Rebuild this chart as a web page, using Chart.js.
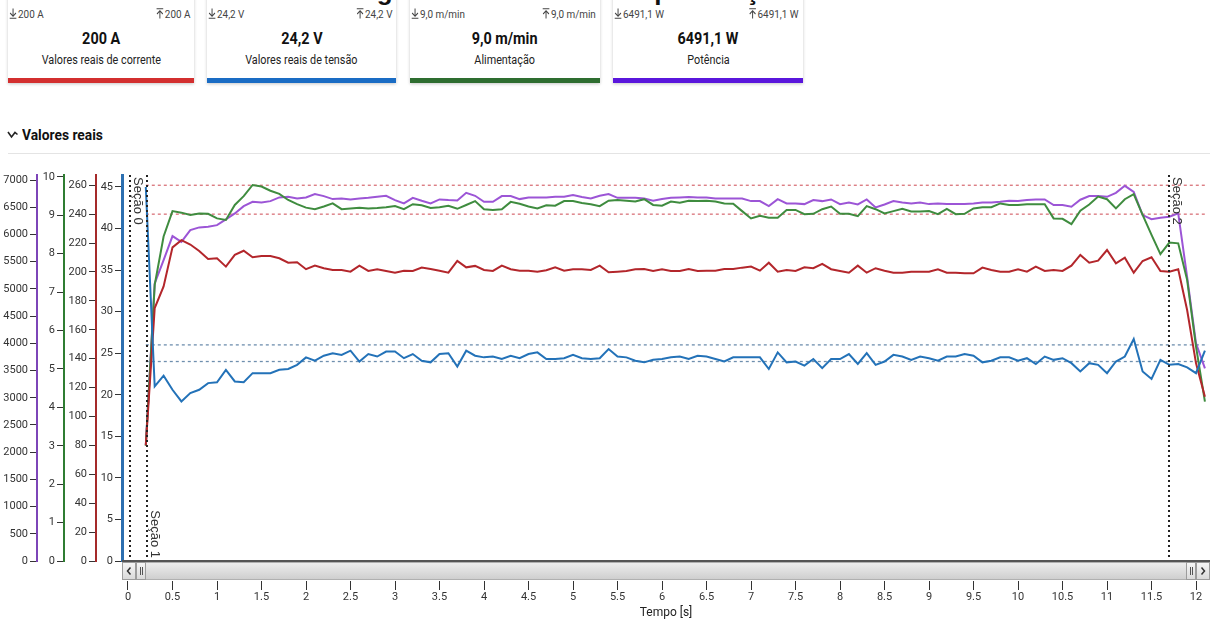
<!DOCTYPE html>
<html><head><meta charset="utf-8">
<script src="https://cdn.jsdelivr.net/npm/chart.js@4.4.1/dist/chart.umd.min.js"></script>
<style>
html,body{margin:0;padding:0;background:#fff;width:1212px;height:622px;overflow:hidden;font-family:"Liberation Sans Narrow","Roboto",sans-serif;color:#222}
#title{position:absolute;top:-24px;left:0;width:1310px;text-align:center;font:bold 26px "Liberation Sans","Roboto",sans-serif;color:#111;white-space:nowrap;z-index:5}
.card{position:absolute;top:-6px;height:89px;background:#fff;box-shadow:0 1px 3px rgba(0,0,0,0.22)}
.sq{display:inline-block;transform:scaleX(0.9);white-space:nowrap}
.card .mn{position:absolute;left:1px;top:14px;font-size:11px;color:#444;white-space:nowrap}
.card .mn .sq{transform-origin:left center}
.card .mx{position:absolute;right:4px;top:14px;font-size:11px;color:#444;white-space:nowrap}
.card .mx .sq{transform-origin:right center}
.card svg{vertical-align:-1px;margin-right:1px}
.card .val{position:absolute;left:0;right:0;top:35px;text-align:center;font-weight:bold;font-size:16px;color:#111}
.card .lab{position:absolute;left:0;right:0;top:59px;text-align:center;font-size:12px;color:#222}
.card .bar{position:absolute;left:0;right:0;bottom:0;height:5px}
#sect{position:absolute;left:22px;top:126px;font-weight:bold;font-size:15px;color:#111}
#sect .sq{transform-origin:left center;transform:scaleX(0.92)}
#icon{position:absolute;left:7px;top:130px}
#rule{position:absolute;left:8px;right:2px;top:153px;height:1px;background:#e4e4e4}
#wrap{position:absolute;left:0;top:160px;width:1212px;height:462px}
</style></head>
<body>
<div id="title">Diagrama dos resultados para seções de soldadura</div>
<div id="cards"></div>
<svg id="icon" width="12" height="10"><polyline points="1,2 4.5,7 8,2.5 10.5,4.5" fill="none" stroke="#222" stroke-width="1.6"/></svg>
<div id="sect"><span class="sq">Valores reais</span></div>
<div id="rule"></div>
<div id="wrap"><canvas id="c"></canvas></div>
<script>
// ---------- data ----------
const cardNames  = ['Valores reais de corrente','Valores reais de tensão','Alimentação','Potência'];
const cardValues = ['200 A','24,2 V','9,0 m/min','6491,1 W'];
const cardMins   = ['200 A','24,2 V','9,0 m/min','6491,1 W'];
const cardMaxs   = ['200 A','24,2 V','9,0 m/min','6491,1 W'];

const times = [
 0.2,0.3,0.4,0.5,0.6,0.7,0.8,0.9,1.0,1.1,
 1.2,1.3,1.4,1.5,1.6,1.7,1.8,1.9,2.0,2.1,
 2.2,2.3,2.4,2.5,2.6,2.7,2.8,2.9,3.0,3.1,
 3.2,3.3,3.4,3.5,3.6,3.7,3.8,3.9,4.0,4.1,
 4.2,4.3,4.4,4.5,4.6,4.7,4.8,4.9,5.0,5.1,
 5.2,5.3,5.4,5.5,5.6,5.7,5.8,5.9,6.0,6.1,
 6.2,6.3,6.4,6.5,6.6,6.7,6.8,6.9,7.0,7.1,
 7.2,7.3,7.4,7.5,7.6,7.7,7.8,7.9,8.0,8.1,
 8.2,8.3,8.4,8.5,8.6,8.7,8.8,8.9,9.0,9.1,
 9.2,9.3,9.4,9.5,9.6,9.7,9.8,9.9,10.0,10.1,
 10.2,10.3,10.4,10.5,10.6,10.7,10.8,10.9,11.0,11.1,
 11.2,11.3,11.4,11.5,11.6,11.7,11.8,11.9,12.0,12.1];

const voltage = [
 45.0,21.0,22.3,20.6,19.2,20.2,20.6,21.4,21.5,23.0,21.6,21.5,22.6,22.6,22.6,23.0,23.1,23.6,24.5,24.1,24.7,25.0,24.8,25.3,24.0,
 24.9,24.6,25.2,25.2,24.4,24.9,24.1,23.9,24.9,25.0,23.4,25.3,24.7,24.5,24.6,24.3,24.7,24.4,24.9,25.1,24.3,24.3,24.4,24.8,24.4,24.3,24.4,
 25.5,24.6,24.5,24.1,23.9,24.2,24.3,24.5,24.6,24.3,24.7,24.6,24.3,24.0,24.5,24.5,24.5,24.5,23.1,25.1,23.9,24.0,23.5,24.3,23.2,24.3,24.3,24.9,
 23.7,25.0,23.6,24.0,24.8,24.6,24.2,24.6,24.4,24.1,24.6,24.6,24.9,24.7,23.9,24.1,24.5,24.5,24.1,24.4,23.7,24.6,24.2,24.4,23.8,
 22.8,23.8,23.6,22.6,24.0,24.6,26.7,22.8,21.9,24.2,23.6,23.7,23.3,22.6,25.3];

const current = [
 80,175,190,217,222,219,214.5,209,209.5,203.7,211.8,214.7,210.2,211,211,209.5,206.4,206.7,201.9,204.4,202.6,201.4,201.4,200.2,204.4,
 200.7,201.9,200.7,199.5,200.9,200.7,203.0,202.1,200.9,199.5,207.6,203.2,204.2,201.4,200.7,204.4,201.9,200.9,200.9,200.2,201.2,203.2,200.9,201.9,201.9,201.4,204.4,
 199.8,200.2,200.7,201.9,202.1,200.7,201.9,200.7,200.7,202.1,200.7,200.9,200.9,202.1,202.1,203.0,203.7,200.9,206.4,200.2,201.4,200.7,203.2,202.6,205.6,201.9,200.7,199.5,
 204.4,199.5,202.6,200.9,199.5,199.5,200.2,200.2,200.2,201.9,199.5,199.5,199.1,199.1,203.0,201.4,200.2,200.2,201.9,200.2,203.7,200.7,201.4,200.7,204.4,
 211.8,206.4,207.8,215.2,206.0,209.9,199.5,207.6,210.2,200.7,200.2,201.9,173.7,136.8,113.7];

const feed = [
 3.0,7.19,8.45,9.11,9.07,9.01,9.05,9.04,8.92,8.88,9.27,9.5,9.79,9.75,9.64,9.56,9.40,9.29,9.2,9.16,9.23,9.31,9.16,9.18,9.2,
 9.18,9.19,9.21,9.24,9.16,9.29,9.26,9.19,9.21,9.25,9.17,9.27,9.37,9.16,9.14,9.16,9.35,9.30,9.23,9.18,9.26,9.25,9.37,9.37,9.32,9.29,9.24,
 9.38,9.40,9.38,9.36,9.42,9.27,9.25,9.36,9.33,9.38,9.37,9.38,9.36,9.31,9.30,9.11,8.92,8.99,8.94,8.94,9.14,9.14,9.03,9.04,9.16,9.23,9.04,9.04,
 8.98,9.24,9.16,9.05,9.11,9.17,9.10,9.10,9.11,9.03,9.17,9.03,9.04,9.18,9.21,9.21,9.31,9.27,9.27,9.29,9.29,9.29,8.92,8.91,8.77,
 9.12,9.28,9.49,9.42,9.18,9.42,9.55,9.01,8.49,7.99,8.29,8.27,7.32,5.58,4.15];

const power = [
 2130,5102,5530,5971,5866,6081,6131,6142,6173,6277,6388,6522,6601,6590,6614,6682,6693,6664,6682,6743,6706,6651,6664,6645,6663,
 6675,6694,6712,6633,6572,6675,6620,6572,6645,6633,6627,6767,6712,6602,6602,6706,6706,6651,6682,6682,6682,6694,6694,6724,6688,6663,6712,
 6743,6675,6675,6675,6663,6620,6651,6675,6682,6688,6682,6682,6663,6663,6663,6663,6614,6614,6522,6651,6572,6572,6559,6633,6614,6645,6559,6590,
 6553,6645,6497,6553,6614,6590,6572,6590,6559,6572,6559,6559,6559,6572,6590,6590,6602,6620,6614,6633,6645,6645,6541,6541,6510,
 6640,6706,6706,6693,6767,6895,6785,6357,6283,6307,6326,6388,5223,4000,3540];

const voltageLimits = [26, 24];
const currentLimits = [260, 240];
const sectionTimes  = [0.02, 0.217, 11.7];
const sectionLabels = ['Seção 0', 'Seção 1', 'Seção 2'];
const xAxisTitle = 'Tempo [s]';

// tick values
const timeTicks    = [0,0.5,1,1.5,2,2.5,3,3.5,4,4.5,5,5.5,6,6.5,7,7.5,8,8.5,9,9.5,10,10.5,11,11.5,12];
const voltageTicks = [0,5,10,15,20,25,30,35,40,45];
const currentTicks = [0,20,40,60,80,100,120,140,160,180,200,220,240,260];
const feedTicks    = [0,1,2,3,4,5,6,7,8,9,10];
const powerTicks   = [0,500,1000,1500,2000,2500,3000,3500,4000,4500,5000,5500,6000,6500,7000];

// ---------- header cards ----------
const cardLeft = [8, 207, 410, 613], cardWidth = [186, 189, 190, 190];
const cardColors = ['#d32f2f', '#1a6cc4', '#2e6d30', '#5a16dc'];
const icoDown = '<svg width="9" height="11" viewBox="0 0 9 11"><path d="M4.5 0.5V8M1.3 5L4.5 8.3 7.7 5M0.8 10.2H8.2" fill="none" stroke="#444" stroke-width="1.1"/></svg>';
const icoUp   = '<svg width="9" height="11" viewBox="0 0 9 11"><path d="M4.5 10.5V3M1.3 6L4.5 2.7 7.7 6M0.8 0.8H8.2" fill="none" stroke="#444" stroke-width="1.1"/></svg>';
const cardsEl = document.getElementById('cards');
cardNames.forEach((n, i) => {
  const d = document.createElement('div');
  d.className = 'card';
  d.style.left = cardLeft[i] + 'px'; d.style.width = cardWidth[i] + 'px';
  d.innerHTML = '<div class="mn"><span class="sq">' + icoDown + cardMins[i] + '</span></div>' +
    '<div class="mx"><span class="sq">' + icoUp + cardMaxs[i] + '</span></div>' +
    '<div class="val"><span class="sq">' + cardValues[i] + '</span></div>' +
    '<div class="lab"><span class="sq">' + n + '</span></div>' +
    '<div class="bar" style="background:' + cardColors[i] + '"></div>';
  cardsEl.appendChild(d);
});

// ---------- chart ----------
const C = { V: '#2372b8', I: '#b3262b', F: '#3f8c3f', P: '#9c55d6' };
const pts = arr => times.map((t, i) => ({ x: t, y: arr[i] }));
const limitLine = (v) => [{ x: times[0], y: v }, { x: times[times.length - 1], y: v }];

Chart.defaults.font.family = '"Liberation Sans Narrow", Roboto, sans-serif';
Chart.defaults.color = '#333';

const lineDs = (data, axis, color) => ({ data, yAxisID: axis, borderColor: color, borderWidth: 2,
  pointRadius: 0, tension: 0, fill: false });
const limDs = (data, axis, color) => ({ data, yAxisID: axis, borderColor: color, borderWidth: 1.3,
  borderDash: [3, 3], pointRadius: 0, fill: false });

const yAxis = (max, tickVals, color, width, weight, bw) => ({
  type: 'linear', position: 'left', min: 0, max, weight,
  afterBuildTicks: s => { s.ticks = tickVals.map(v => ({ value: v })); },
  ticks: { padding: 2, font: { size: 11 }, color: '#333', callback: v => String(v) },
  grid: { display: true, drawOnChartArea: false, drawTicks: true, tickLength: 7, color: '#333' },
  border: { display: true, color, width: bw },
  afterFit: s => { s.width = width; }
});

const overlay = {
  id: 'overlay',
  afterDatasetsDraw(chart) {
    const { ctx, chartArea: a, scales: { x } } = chart;
    ctx.save();
    ctx.strokeStyle = '#222'; ctx.lineWidth = 2; ctx.setLineDash([2, 3]);
    sectionTimes.forEach(t => {
      const px = Math.round(x.getPixelForValue(t));
      ctx.beginPath(); ctx.moveTo(px, a.top); ctx.lineTo(px, a.bottom); ctx.stroke();
    });
    ctx.setLineDash([]);
    ctx.fillStyle = '#333'; ctx.font = '13px "Liberation Sans", sans-serif';
    ctx.textAlign = 'left'; ctx.textBaseline = 'alphabetic';
    sectionTimes.forEach((t, i) => {
      const px = Math.round(x.getPixelForValue(t));
      const w = ctx.measureText(sectionLabels[i]).width;
      const top = (i === 1) ? a.bottom - 3 - w : a.top + 2;
      ctx.save(); ctx.translate(px + 4, top); ctx.rotate(Math.PI / 2);
      ctx.fillText(sectionLabels[i], 0, 0); ctx.restore();
    });
    ctx.restore();
  },
  afterDraw(chart) {
    const { ctx, chartArea: a } = chart;
    const y0 = a.bottom + 1, h = 18, x0 = a.left, x1 = a.right;
    ctx.save();
    ctx.fillStyle = '#fff'; ctx.fillRect(x0 - 1, y0, x1 - x0 + 2, h + 1);
    const g = ctx.createLinearGradient(0, y0, 0, y0 + h);
    g.addColorStop(0, '#efefef'); g.addColorStop(1, '#cdcdcd');
    ctx.fillStyle = g; ctx.fillRect(x0, y0, x1 - x0, h);
    ctx.strokeStyle = '#b0b0b0'; ctx.lineWidth = 1; ctx.strokeRect(x0 + 0.5, y0 + 0.5, x1 - x0 - 1, h - 1);
    ctx.fillStyle = '#555'; ctx.fillRect(x0, a.bottom - 1, x1 - x0, 2);
    const btn = (bx, bw) => {
      const gg = ctx.createLinearGradient(0, y0, 0, y0 + h);
      gg.addColorStop(0, '#f8f8f8'); gg.addColorStop(1, '#d8d8d8');
      ctx.fillStyle = gg; ctx.fillRect(bx, y0, bw, h);
      ctx.strokeStyle = '#9c9c9c'; ctx.strokeRect(bx + 0.5, y0 + 0.5, bw - 1, h - 1);
    };
    btn(x0, 14); btn(x1 - 14, 14); btn(x0 + 14, 10); btn(x1 - 24, 10);
    ctx.strokeStyle = '#333'; ctx.lineWidth = 1.5;
    ctx.beginPath(); ctx.moveTo(x0 + 8.5, y0 + 5.5); ctx.lineTo(x0 + 5.5, y0 + 9); ctx.lineTo(x0 + 8.5, y0 + 12.5); ctx.stroke();
    ctx.beginPath(); ctx.moveTo(x1 - 8.5, y0 + 5.5); ctx.lineTo(x1 - 5.5, y0 + 9); ctx.lineTo(x1 - 8.5, y0 + 12.5); ctx.stroke();
    ctx.lineWidth = 1; ctx.strokeStyle = '#555';
    [x0 + 18, x0 + 20, x1 - 20, x1 - 18].forEach(gx => {
      ctx.beginPath(); ctx.moveTo(gx + 0.5, y0 + 5); ctx.lineTo(gx + 0.5, y0 + 13); ctx.stroke();
    });
    ctx.restore();
  }
};

new Chart(document.getElementById('c'), {
  type: 'line',
  data: {
    datasets: [
      lineDs(pts(voltage), 'yV', C.V),
      lineDs(pts(current), 'yI', C.I),
      lineDs(pts(feed), 'yF', C.F),
      lineDs(pts(power), 'yP', C.P),
      limDs(limitLine(currentLimits[0]), 'yI', '#d9737a'),
      limDs(limitLine(currentLimits[1]), 'yI', '#d9737a'),
      limDs(limitLine(voltageLimits[0]), 'yV', '#6f8fae'),
      limDs(limitLine(voltageLimits[1]), 'yV', '#6f8fae')
    ]
  },
  options: {
    responsive: true, maintainAspectRatio: false, animation: false,
    layout: { padding: { top: 15, right: 2, left: 0, bottom: 0 } },
    plugins: { legend: { display: false }, tooltip: { enabled: false } },
    scales: {
      x: {
        type: 'linear', min: -0.0674, max: 12.157,
        afterBuildTicks: s => { s.ticks = timeTicks.map(v => ({ value: v })); },
        ticks: { autoSkip: false, maxRotation: 0, padding: 1,
          font: { size: 11 }, color: '#333', callback: v => String(v) },
        grid: { display: true, drawOnChartArea: false, drawTicks: true, tickLength: 29, color: '#333' },
        border: { display: false },
        title: { display: true, text: xAxisTitle, font: { size: 12 }, color: '#222', padding: { top: 0, bottom: 2 } },
        afterFit: s => { s.height = 61; }
      },
      yV: yAxis(46.44, voltageTicks, '#2c6fb0', 26, 1, 3),
      yI: yAxis(267.1, currentTicks, '#a52a2a', 32, 2, 2),
      yF: yAxis(10.05, feedTicks, '#2f7d32', 27, 3, 2),
      yP: yAxis(7094, powerTicks, '#7d45b8', 37, 4, 2)
    }
  },
  plugins: [overlay]
});
</script>
</body></html>
